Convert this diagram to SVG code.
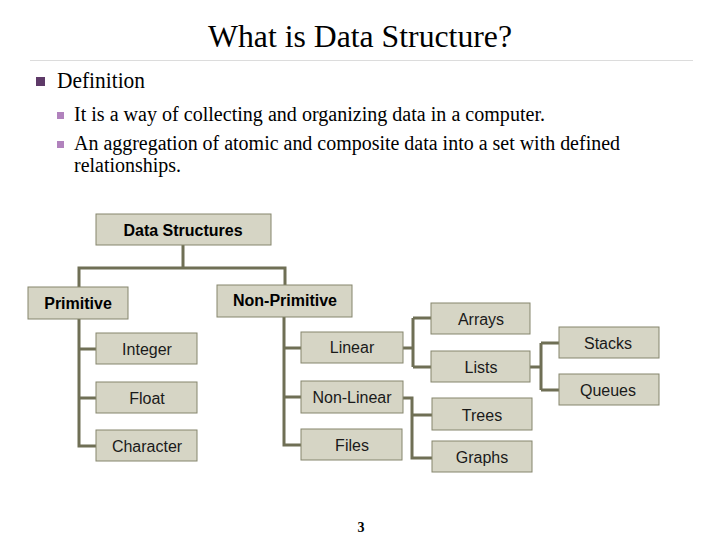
<svg xmlns="http://www.w3.org/2000/svg" width="720" height="540" viewBox="0 0 720 540">
<style>
.bg{fill:#ffffff}
.serif{font-family:"Liberation Serif","Times New Roman",serif;fill:#000}
.box{fill:#d6d5c5;stroke:#85856c;stroke-width:1}
.lbl{font-family:"Liberation Sans",Arial,sans-serif;font-size:16px;fill:#1a1a1a;text-anchor:middle}
.b{font-weight:bold;fill:#000}
.con{fill:none;stroke:#6f6f55;stroke-width:3;stroke-linejoin:miter}
</style>
<rect class="bg" x="0" y="0" width="720" height="540"/>
<text class="serif" x="208" y="47" font-size="32" textLength="304" lengthAdjust="spacingAndGlyphs">What is Data Structure?</text>
<line x1="30" y1="60.5" x2="693" y2="60.5" stroke="#dcdcdc" stroke-width="1"/>
<rect x="36" y="77" width="9" height="9" fill="#5e3a68"/>
<text class="serif" x="57" y="88" font-size="23" textLength="88" lengthAdjust="spacingAndGlyphs">Definition</text>
<rect x="57" y="112" width="7" height="7" fill="#b182bd"/>
<text class="serif" x="74" y="121" font-size="20" textLength="471" lengthAdjust="spacingAndGlyphs">It is a way of collecting and organizing data in a computer.</text>
<rect x="57" y="141" width="7" height="7" fill="#b182bd"/>
<text class="serif" x="74" y="150" font-size="20" textLength="546" lengthAdjust="spacingAndGlyphs">An aggregation of atomic and composite data into a set with defined</text>
<text class="serif" x="74" y="172" font-size="20" textLength="107" lengthAdjust="spacingAndGlyphs">relationships.</text>
<g id="connectors">
<path class="con" d="M183,245 V268 M79,268 H285 M79,266.5 V287 M285,266.5 V285"/>
<path class="con" d="M79,319 V446 H96 M79,349 H96 M79,398 H96"/>
<path class="con" d="M284,317 V445 H301 M284,348 H301 M284,397 H301"/>
<path class="con" d="M403,348 H413 M413,318 V367 M413,318 H431 M413,367 H431"/>
<path class="con" d="M530,367 H541 M541,343 V390 M541,343 H559 M541,390 H559"/>
<path class="con" d="M403,398 H412 M412,396.5 V458 H432 M412,415 H432"/>
</g>
<g id="data-structures"><rect class="box" x="96" y="214" width="175" height="31"/><text class="lbl b" x="183" y="236">Data Structures</text></g>
<g id="primitive"><rect class="box" x="28" y="287" width="100" height="32"/><text class="lbl b" x="78" y="309">Primitive</text></g>
<g id="non-primitive"><rect class="box" x="217" y="285" width="135" height="32"/><text class="lbl b" x="285" y="306">Non-Primitive</text></g>
<g id="integer"><rect class="box" x="96" y="333" width="101" height="31"/><text class="lbl" x="147" y="355">Integer</text></g>
<g id="float"><rect class="box" x="96" y="382" width="101" height="31"/><text class="lbl" x="147" y="404">Float</text></g>
<g id="character"><rect class="box" x="96" y="430" width="101" height="31"/><text class="lbl" x="147" y="452">Character</text></g>
<g id="linear"><rect class="box" x="301" y="332" width="102" height="31"/><text class="lbl" x="352" y="353">Linear</text></g>
<g id="non-linear"><rect class="box" x="301" y="381" width="102" height="32"/><text class="lbl" x="352" y="403">Non-Linear</text></g>
<g id="files"><rect class="box" x="301" y="429" width="101" height="31"/><text class="lbl" x="352" y="451">Files</text></g>
<g id="arrays"><rect class="box" x="431" y="303" width="99" height="31"/><text class="lbl" x="481" y="325">Arrays</text></g>
<g id="lists"><rect class="box" x="431" y="351" width="99" height="31"/><text class="lbl" x="481" y="373">Lists</text></g>
<g id="stacks"><rect class="box" x="559" y="327" width="100" height="31"/><text class="lbl" x="608" y="349">Stacks</text></g>
<g id="queues"><rect class="box" x="559" y="374" width="100" height="31"/><text class="lbl" x="608" y="396">Queues</text></g>
<g id="trees"><rect class="box" x="432" y="398" width="100" height="32"/><text class="lbl" x="482" y="421">Trees</text></g>
<g id="graphs"><rect class="box" x="432" y="441" width="100" height="31"/><text class="lbl" x="482" y="463">Graphs</text></g>
<text class="serif" x="361" y="532" font-size="14" font-weight="bold" text-anchor="middle">3</text>
</svg>
